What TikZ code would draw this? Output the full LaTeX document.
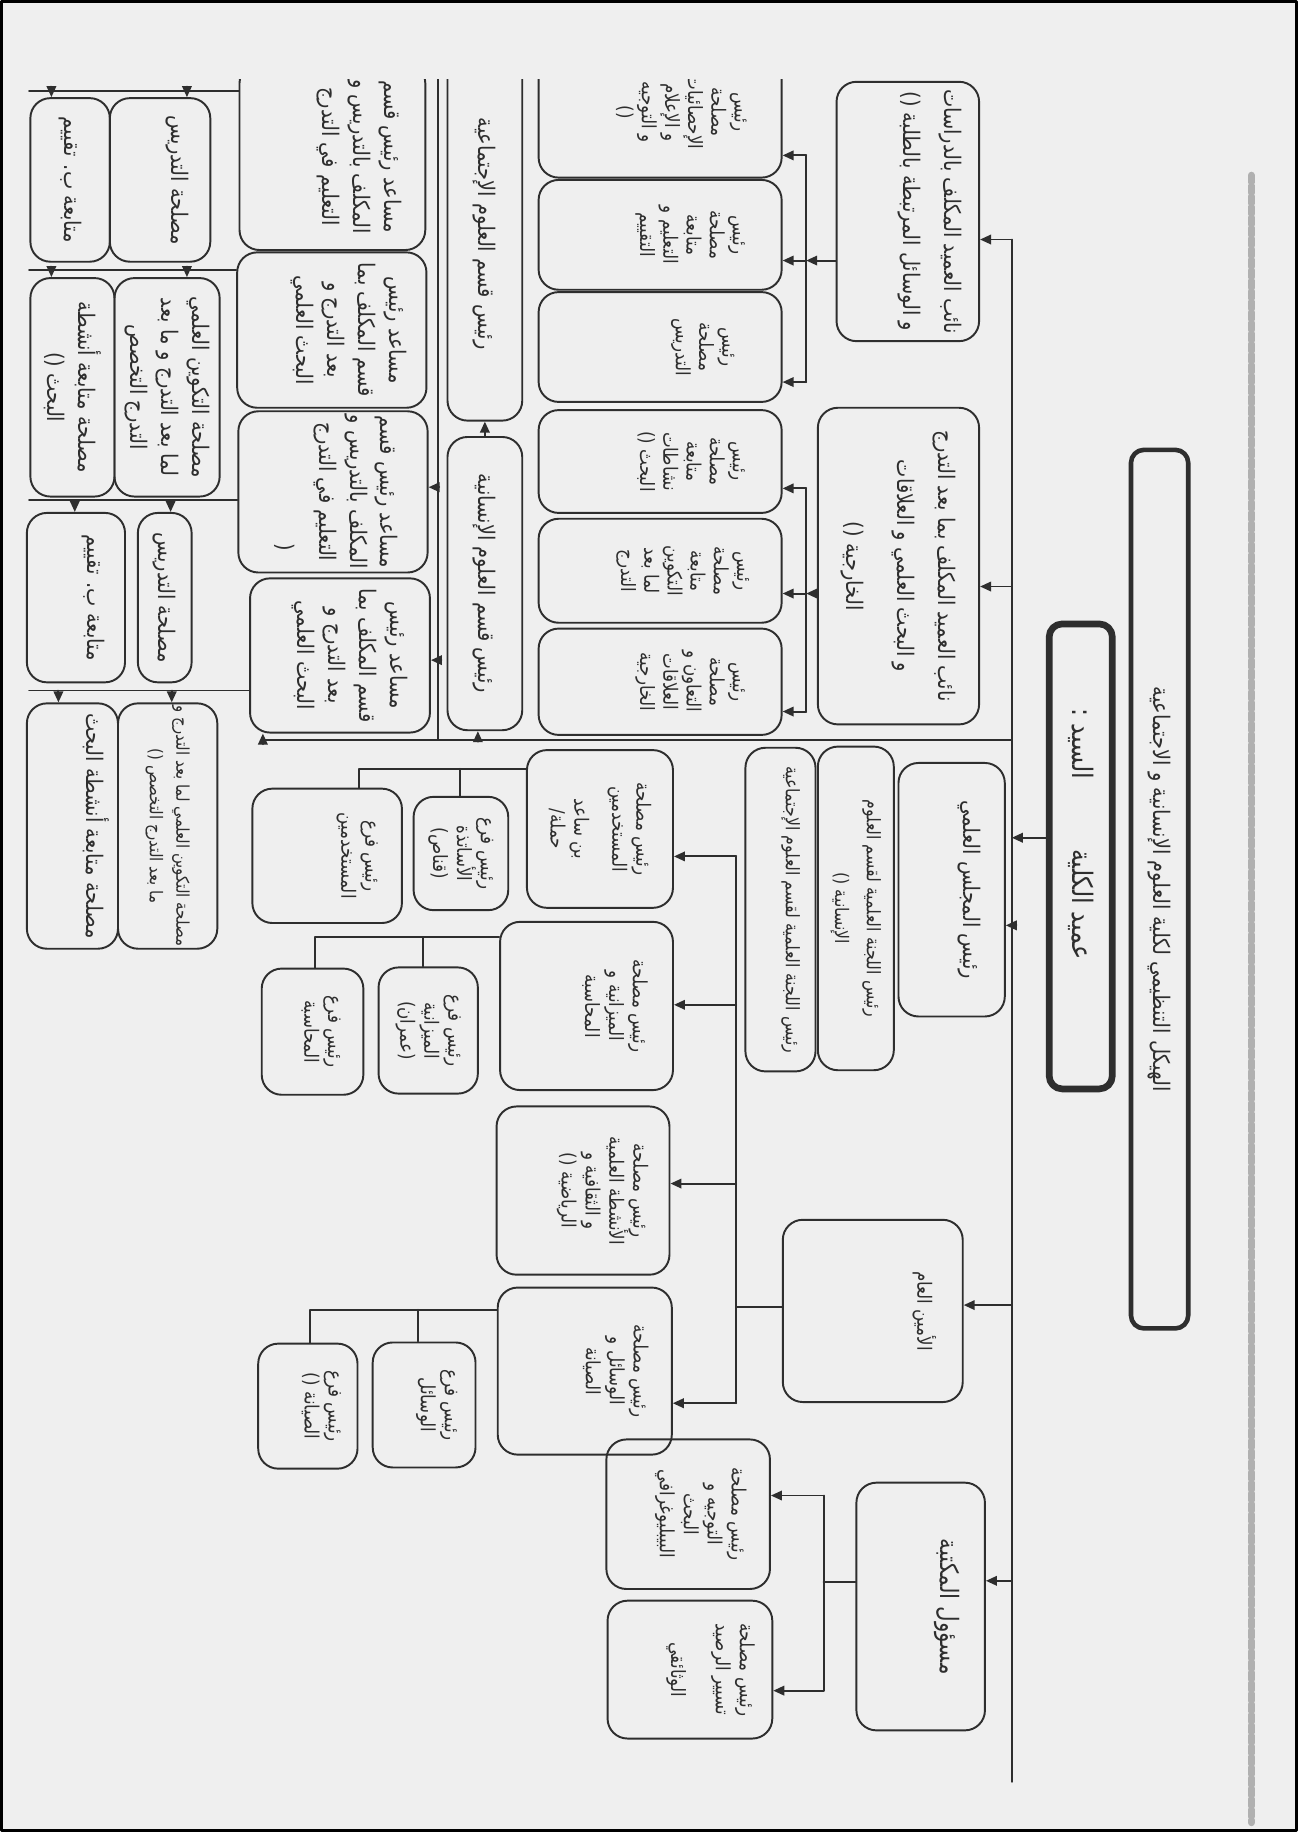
\documentclass[tikz,border=0pt]{standalone}
\usepackage{fontspec}
\usepackage{tikz}
\usetikzlibrary{arrows.meta}
\TeXXeTstate=1
\newfontfamily\arabicfont[Script=Arabic,FakeStretch=0.85]{DejaVu Sans}
\definecolor{ink}{HTML}{2E2E2E}
\definecolor{paper}{HTML}{EFEFEF}
\definecolor{scan}{HTML}{B0B0B0}
\newcommand{\ar}[1]{\beginR #1\endR}
\newcommand{\px}{0.11683mm}
\newcommand{\fontT}{\arabicfont\fontsize{6.5}{9}\selectfont}
\newcommand{\fontDean}{\arabicfont\fontsize{8}{10}\selectfont}
\newcommand{\fontA}{\arabicfont\fontsize{6.5}{11.5}\selectfont}
\newcommand{\fontB}{\arabicfont\fontsize{6.5}{8.8}\selectfont}
\newcommand{\fontE}{\arabicfont\fontsize{5.3}{9}\selectfont}
\newcommand{\fontC}{\arabicfont\fontsize{5.6}{6.8}\selectfont}
\newcommand{\fontD}{\arabicfont\fontsize{5.6}{6.6}\selectfont}
\newcommand{\orgbox}[7][]{%
  \node[orgbox,#1,minimum width={(#6-#5)*\px},minimum height={(#4-#3)*\px}]
    (#2) at ({(#5+#6)/2},{(#3+#4)/2}) {#7};}
\tikzset{
    every picture/.style={line cap=round,line join=round},
    orgbox/.style={draw=ink,line width=0.55pt,rounded corners=2mm,inner sep=0.5pt,
      align=center,text=ink,font=\fontB},
    bigtext/.style={font=\fontA},
    libtext/.style={font=\arabicfont\fontsize{7.2}{9}\selectfont},
    comtext/.style={font=\fontE},
    smalltext/.style={font=\fontC},
    tinytext/.style={font=\fontD},
    titlebox/.style={line width=1.3pt,rounded corners=1.3mm,font=\fontT},
    deanbox/.style={line width=1.9pt,rounded corners=1.3mm,font=\fontDean},
    textup/.style={text depth=#1},
    wire/.style={draw=ink,line width=0.55pt},
    flow/.style={wire,-{Triangle[length=1.1mm,width=0.95mm]}}
}

\begin{document}
\begin{tikzpicture}[x=0.11683mm,y=0.11683mm]
\begin{scope}[rotate=-90,transform shape]
  \fill[paper] (0,0) rectangle (1568,1111);
  \useasboundingbox (0,0) rectangle (1568,1111);
  \draw[black,line width=0.9pt] (1,1) rectangle (1567,1110);
  \draw[scan,line width=2pt,dash pattern=on 2pt off 1pt] (150,1071) -- (1560,1071);
  \begin{scope}
  \clip (68,0) rectangle (1568,1111);
  \orgbox[titlebox]{title}{968}{1017}{385}{1137}{\ar{الهيكل التنظيمي لكلية العلوم الإنسانية و الاجتماعية}}
  \orgbox[deanbox]{dean}{898}{952}{534}{932}{\ar{\hspace{4.5mm}عميد الكلية\hspace{7mm}السيد :}}
  \orgbox[bigtext,textup=5mm]{vdA}{716}{838}{70}{292}{\ar{نائب العميد المكلف بالدراسات}\\\ar{و الوسائل المرتبطة بالطلبة ()}}
  \orgbox[bigtext]{vdB}{700}{838}{349}{620}{\ar{نائب العميد المكلف بما بعد التدرج}\\\ar{و البحث العلمي و العلاقات}\\[3pt]\ar{الخارجية ()}}
  \orgbox[bigtext,textup=4.2mm]{council}{769}{860}{653}{870}{\ar{رئيس المجلس العلمي}}
  \orgbox[comtext]{comH}{700}{765}{639}{916}{\ar{رئيس اللجنة العلمية لقسم العلوم}\\\ar{الإنسانية ()}}
  \orgbox[comtext,textup=2.5mm]{comS}{638}{698}{640}{917}{\ar{رئيس اللجنة العلمية لقسم العلوم الإجتماعية}}
  \orgbox[smalltext,textup=10.8mm]{secgen}{670}{824}{1044}{1200}{\ar{الأمين العام}}
  \orgbox[libtext,textup=5.8mm]{lib}{733}{843}{1269}{1481}{\ar{مسؤول المكتبة}}
  \orgbox[smalltext,textup=3mm]{libA}{519}{659}{1232}{1360}{\ar{رئيس مصلحة}\\\ar{التوجيه و}\\\ar{البحث}\\\ar{البيبليوغرافي}}
  \orgbox[smalltext,textup=4.6mm]{libB}{520}{661}{1370}{1488}{\ar{رئيس مصلحة}\\\ar{تسيير الرصيد}\\[6pt]\ar{الوثائقي}}
  \orgbox[tinytext,textup=4.5mm]{svA}{461}{669}{40}{152}{\ar{رئيس}\\\ar{مصلحة}\\\ar{الإحصائيات}\\\ar{و الإعلام}\\\ar{و التوجيه}\\\ar{()}}
  \orgbox[tinytext,textup=6.5mm]{svB}{461}{669}{154}{248}{\ar{رئيس}\\\ar{مصلحة}\\\ar{متابعة}\\\ar{التعليم و}\\\ar{التقييم}}
  \orgbox[tinytext,textup=9mm]{svC}{461}{669}{250}{344}{\ar{رئيس}\\\ar{مصلحة}\\\ar{التدريس}}
  \orgbox[tinytext,textup=6.5mm]{svD}{461}{669}{351}{439}{\ar{رئيس}\\\ar{مصلحة}\\\ar{متابعة}\\\ar{نشاطات}\\\ar{البحث ()}}
  \orgbox[tinytext,textup=5mm]{svE}{461}{669}{444}{533}{\ar{رئيس}\\\ar{مصلحة}\\\ar{متابعة}\\\ar{التكوين}\\\ar{لما بعد}\\\ar{التدرج}}
  \orgbox[tinytext,textup=6.5mm]{svF}{461}{669}{538}{629}{\ar{رئيس}\\\ar{مصلحة}\\\ar{التعاون و}\\\ar{العلاقات}\\\ar{الخارجية}}
  \orgbox[bigtext]{deptS}{383}{447}{40}{360}{\ar{رئيس قسم العلوم الإجتماعية}}
  \orgbox[bigtext]{deptH}{383}{447}{374}{625}{\ar{رئيس قسم العلوم الإنسانية}}
  \orgbox[textup=6mm]{asstA}{205}{364}{54}{214}{\ar{مساعد رئيس قسم}\\\ar{المكلف بالتدريس و}\\\ar{التعليم في التدرج}}
  \orgbox[textup=4mm]{asstB}{203}{365}{216}{349}{\ar{مساعد رئيس}\\\ar{قسم المكلف بما}\\\ar{بعد التدرج و}\\\ar{البحث العلمي}}
  \orgbox[textup=1mm]{asstC}{204}{366}{352}{490}{\ar{مساعد رئيس قسم}\\\ar{المكلف بالتدريس و}\\\ar{التعليم في التدرج}\\[3pt]\makebox[0pt]{\hspace{11mm}(}}
  \orgbox[textup=2.5mm]{asstD}{214}{368}{495}{627}{\ar{مساعد رئيس}\\\ar{قسم المكلف بما}\\\ar{بعد التدرج و}\\\ar{البحث العلمي}}
  \orgbox{lowA1}{26}{94}{84}{224}{\ar{متابعة ب. تقييم}}
  \orgbox[textup=4mm]{lowA2}{94}{180}{84}{224}{\ar{مصلحة التدريس}}
  \orgbox{lowB1}{26}{98}{238}{425}{\ar{مصلحة متابعة أنشطة}\\\ar{البحث ()}}
  \orgbox{lowB2}{98}{188}{238}{425}{\ar{مصلحة التكوين العلمي}\\\ar{لما بعد التدرج و ما بعد}\\\ar{التدرج التخصص}}
  \orgbox[textup=4mm]{lowC1}{23}{107}{439}{584}{\ar{متابعة ب. تقييم}}
  \orgbox{lowC2}{118}{164}{439}{584}{\ar{مصلحة التدريس}}
  \orgbox[textup=5mm]{lowD1}{23}{101}{602}{812}{\ar{مصلحة متابعة أنشطة البحث}}
  \orgbox[font=\arabicfont\fontsize{5}{7.5}\selectfont]{lowD2}{101}{186}{602}{812}{\ar{مصلحة التكوين العلمي لما بعد التدرج و}\\\ar{ما بعد التدرج التخصص ()}}
  \orgbox[smalltext]{staff}{451}{576}{642}{777}{\ar{رئيس مصلحة}\\\ar{المستخدمين}\\[4pt]\ar{بن ساعد}\\\ar{حملة/}}
  \orgbox[smalltext,textup=6mm]{budget}{428}{576}{789}{933}{\ar{رئيس مصلحة}\\\ar{الميزانية و}\\\ar{المحاسبة}}
  \orgbox[smalltext,textup=4.4mm]{activ}{425}{573}{947}{1091}{\ar{رئيس مصلحة}\\\ar{الأنشطة العلمية}\\\ar{و الثقافية و}\\\ar{الرياضية ()}}
  \orgbox[smalltext,textup=6.5mm]{maint}{426}{575}{1102}{1245}{\ar{رئيس مصلحة}\\\ar{الوسائل و}\\\ar{الصيانة}}
  \orgbox[smalltext]{brProf}{354}{435}{682}{779}{\ar{رئيس فرع}\\\ar{الأساتذة}\\\ar{(قناص)}}
  \orgbox[smalltext,textup=6.5mm]{brUsers}{216}{344}{675}{790}{\ar{رئيس فرع}\\\ar{المستخدمين}}
  \orgbox[smalltext]{brBudget}{324}{409}{828}{936}{\ar{رئيس فرع}\\\ar{الميزانية}\\\ar{(عمران)}}
  \orgbox[smalltext,textup=2mm]{brAcc}{224}{311}{829}{937}{\ar{رئيس فرع}\\\ar{المحاسبة}}
  \orgbox[smalltext,textup=3mm]{brMeans}{319}{407}{1149}{1256}{\ar{رئيس فرع}\\\ar{الوسائل}}
  \orgbox[smalltext,textup=3mm]{brMaint}{221}{306}{1150}{1257}{\ar{رئيس فرع}\\\ar{الصيانة ()}}

  \coordinate (busTop) at (205,866);
  \coordinate (busEnd) at (1525,866);
  \draw[wire] (busTop) -- (busEnd);
  \draw[flow] (busTop) -- (busTop |- vdA.north);
  \coordinate (jB) at (502,866);
  \draw[flow] (jB) -- (jB |- vdB.north);
  \coordinate (jDean) at (717,866);
  \draw[flow] (jDean |- dean.south) -- (jDean);
  \coordinate (jC) at (792,866);
  \draw[flow] (jC) -- (jC |- council.north);
  \coordinate (jS) at (1117,866);
  \draw[flow] (jS) -- (jS |- secgen.north);
  \coordinate (jL) at (1353,866);
  \draw[flow] (jL) -- (jL |- lib.north);

  \coordinate (jD) at (633,866);
  \coordinate (dLeft) at (633,225);
  \draw[wire] (jD) -- (dLeft);
  \draw[flow] (dLeft) -- (dLeft -| asstD.east);
  \coordinate (jH) at (633,409);
  \draw[flow] (jH) -- (jH -| deptH.east);
  \coordinate (cBot) at (633,375);
  \coordinate (cTop) at (40,375);
  \draw[wire] (cBot) -- (cTop);
  \coordinate (cC) at (417,375);
  \draw[flow] (cC) -- (cC |- asstC.north);
  \coordinate (cD) at (565,375);
  \draw[flow] (cD) -- (cD |- asstD.north);
  \draw[flow] (deptH.west) -- (deptS.east);

  \coordinate (kA) at (223,690);
  \coordinate (kA1) at (133,690);
  \coordinate (kA3) at (327,690);
  \draw[flow] (kA |- vdA.south) -- (kA);
  \draw[wire] (kA1) -- (kA3);
  \draw[flow] (kA1) -- (kA1 |- svA.north);
  \draw[flow] (kA) -- (kA |- svB.north);
  \draw[flow] (kA3) -- (kA3 |- svC.north);
  \coordinate (kB) at (508,690);
  \coordinate (kB1) at (418,690);
  \coordinate (kB3) at (609,690);
  \draw[flow] (kB |- vdB.south) -- (kB);
  \draw[wire] (kB1) -- (kB3);
  \draw[flow] (kB1) -- (kB1 |- svD.north);
  \draw[flow] (kB) -- (kB |- svE.north);
  \draw[flow] (kB3) -- (kB3 |- svF.north);

  \coordinate (mTop) at (733,630);
  \coordinate (mB) at (860,630);
  \coordinate (mA) at (1013,630);
  \coordinate (mBot) at (1201,630);
  \coordinate (mS) at (1119,630);
  \draw[wire] (mTop) -- (mBot);
  \draw[wire] (mS |- secgen.south) -- (mS);
  \draw[flow] (mTop) -- (mTop |- staff.north);
  \draw[flow] (mB) -- (mB |- budget.north);
  \draw[flow] (mA) -- (mA |- activ.north);
  \draw[flow] (mBot) -- (mBot |- maint.north);

  \coordinate (lTop) at (1280,705);
  \coordinate (lM) at (1354,705);
  \coordinate (lBot) at (1447,705);
  \draw[wire] (lTop) -- (lBot);
  \draw[wire] (lM |- lib.south) -- (lM);
  \draw[flow] (lTop) -- (lTop |- libA.north);
  \draw[flow] (lBot) -- (lBot |- libB.north);

  \coordinate (bS) at (658,307);
  \coordinate (bS2) at (658,394);
  \draw[wire] (bS |- staff.south) -- (bS) -- (bS -| brUsers.west);
  \draw[wire] (bS2) -- (bS2 -| brProf.west);
  \coordinate (bB) at (802,270);
  \coordinate (bB2) at (802,362);
  \draw[wire] (bB |- budget.south) -- (bB) -- (bB -| brAcc.west);
  \draw[wire] (bB2) -- (bB2 -| brBudget.west);
  \coordinate (bM) at (1121,265);
  \coordinate (bM2) at (1121,358);
  \draw[wire] (bM |- maint.south) -- (bM) -- (bM -| brMaint.west);
  \draw[wire] (bM2) -- (bM2 -| brMeans.west);

  \foreach \n/\yy/\xa/\xb in {A/78/44/160,B/231/44/160,C/428/64/146,D/591/50/147}{
    \coordinate (g\n) at (\yy,25);
    \coordinate (g\n1) at (\yy,\xa);
    \coordinate (g\n2) at (\yy,\xb);
    \draw[wire] (g\n |- asst\n.south) -- (g\n);
    \draw[flow] (g\n1) -- (g\n1 -| low\n1.west);
    \draw[flow] (g\n2) -- (g\n2 -| low\n2.west);
  }
  \end{scope}
\end{scope}
\end{tikzpicture}
\end{document}
